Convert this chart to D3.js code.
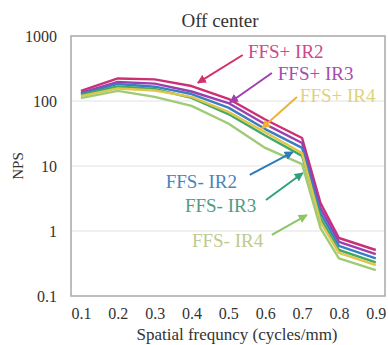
<!DOCTYPE html>
<html>
<head>
<meta charset="utf-8">
<style>
body { margin: 0; background: #fff; }
svg text { font-family: "Liberation Serif", "Times New Roman", serif; }
.axis text { font-size: 16px; fill: #333; }
.axis path, .axis line { display: none; }
</style>
</head>
<body>
<script src="https://cdn.jsdelivr.net/npm/d3@7/dist/d3.min.js"></script>
<script>
// spatial frequency samples (cycles/mm)
const freq = [0.1, 0.2, 0.3, 0.4, 0.5, 0.6, 0.7, 0.75, 0.8, 0.9];

// NPS values
const ffsPlusIR2  = [143, 222, 215, 170, 108, 52, 27, 2.7, 0.78, 0.51];
const ffsPlusIR3  = [133, 196, 185, 140, 93, 44, 22.6, 2.26, 0.68, 0.44];
const ffsMinusIR2 = [128, 183, 166, 128, 79, 37, 19, 1.9, 0.59, 0.38];
const ffsMinusIR3 = [124, 167, 153, 112, 63, 29.5, 14.3, 1.58, 0.51, 0.33];
const ffsPlusIR4  = [119, 156, 145, 116, 68, 33, 15.8, 1.37, 0.46, 0.30];
const ffsMinusIR4 = [111, 143, 116, 84, 45, 19, 10.7, 1.11, 0.38, 0.25];

const seriesNames = ["FFS+ IR2", "FFS+ IR3", "FFS- IR2", "FFS- IR3", "FFS+ IR4", "FFS- IR4"];
const seriesValues = [ffsPlusIR2, ffsPlusIR3, ffsMinusIR2, ffsMinusIR3, ffsPlusIR4, ffsMinusIR4];

const xTicks = [0.1, 0.2, 0.3, 0.4, 0.5, 0.6, 0.7, 0.8, 0.9];
const yTicks = [0.1, 1, 10, 100, 1000];
const yTickLabels = ["0.1", "1", "10", "100", "1000"];

const lineColor = {
    "FFS+ IR2": "#cc2f73", "FFS+ IR3": "#9c3fae", "FFS- IR2": "#3b7cc2",
    "FFS- IR3": "#41a867", "FFS+ IR4": "#e1c64c", "FFS- IR4": "#9fca76"
};
const textColor = {
    "FFS+ IR2": "#d4468a", "FFS+ IR3": "#a64db4", "FFS+ IR4": "#e0d27c",
    "FFS- IR2": "#4a86b8", "FFS- IR3": "#4f9c84", "FFS- IR4": "#bccb90"
};
const arrowColor = {
    "FFS+ IR2": "#d2306e", "FFS+ IR3": "#a040b0", "FFS+ IR4": "#eab436",
    "FFS- IR2": "#2f7ab8", "FFS- IR3": "#2fa27a", "FFS- IR4": "#8cc466"
};

// annotation placement in data units: text start, arrow tail, arrow tip
const notes = [
    {name: "FFS+ IR2", tx: 0.553, ty: 460, ax: 0.539, ay: 510, hx: 0.417, hy: 190},
    {name: "FFS+ IR3", tx: 0.634, ty: 210, ax: 0.618, ay: 270, hx: 0.504, hy: 95},
    {name: "FFS+ IR4", tx: 0.694, ty: 97,  ax: 0.686, ay: 115, hx: 0.591, hy: 38},
    {name: "FFS- IR2", tx: 0.330, ty: 4.6, ax: 0.558, ay: 7.3, hx: 0.675, hy: 16.4},
    {name: "FFS- IR3", tx: 0.382, ty: 1.96, ax: 0.602, ay: 3.0, hx: 0.702, hy: 7.8},
    {name: "FFS- IR4", tx: 0.401, ty: 0.57, ax: 0.618, ay: 0.87, hx: 0.713, hy: 1.76}
];

const W = 388, H = 345;
const margin = {top: 36, right: 3, bottom: 49, left: 71},
    width = W - margin.left - margin.right,
    height = H - margin.top - margin.bottom;

const svg = d3.select("body").append("svg")
    .attr("width", W)
    .attr("height", H);

const g = svg.append("g")
    .attr("transform", "translate(" + margin.left + "," + margin.top + ")");

const x = d3.scaleLinear().domain([0.073, 0.925]).range([0, width]);
const y = d3.scaleLog().domain([0.1, 1000]).range([height, 0]);

// gridlines
g.selectAll(".grid")
    .data(yTicks.slice(1, -1))
    .enter().append("line")
    .attr("class", "grid")
    .attr("x1", 0).attr("x2", width)
    .attr("y1", d => y(d)).attr("y2", d => y(d))
    .attr("stroke", "#e2e2e2")
    .attr("stroke-width", 1.2);

// frame
g.append("rect")
    .attr("width", width)
    .attr("height", height)
    .attr("fill", "none")
    .attr("stroke", "#a8a8a8")
    .attr("stroke-width", 1.5);

g.append("g")
    .attr("class", "x axis")
    .attr("transform", "translate(0," + height + ")")
    .call(d3.axisBottom(x).tickValues(xTicks).tickSize(0).tickPadding(12).tickFormat(d3.format(".1f")))
    .attr("font-family", null).attr("font-size", null);

g.append("g")
    .attr("class", "y axis")
    .call(d3.axisLeft(y).tickValues(yTicks).tickSize(0).tickPadding(14)
        .tickFormat((d, i) => yTickLabels[i]))
    .attr("font-family", null).attr("font-size", null);

// lines
const line = d3.line()
    .x((d, i) => x(freq[i]))
    .y(d => y(d));

g.selectAll(".series")
    .data(seriesNames)
    .enter().append("path")
    .attr("class", "series")
    .attr("fill", "none")
    .attr("stroke", d => lineColor[d])
    .attr("stroke-width", 2.4)
    .attr("stroke-linejoin", "round")
    .attr("d", (d, i) => line(seriesValues[i]));

// arrowheads
const defs = svg.append("defs");
notes.forEach((n, i) => {
    defs.append("marker")
        .attr("id", "ah" + i)
        .attr("viewBox", "0 0 10 10")
        .attr("refX", 9).attr("refY", 5)
        .attr("markerUnits", "userSpaceOnUse")
        .attr("markerWidth", 9).attr("markerHeight", 9)
        .attr("orient", "auto")
        .append("path")
        .attr("d", "M0,0L10,5L0,10z")
        .attr("fill", arrowColor[n.name]);
});

const ann = g.selectAll(".note")
    .data(notes)
    .enter().append("g")
    .attr("class", "note");

ann.append("line")
    .attr("x1", d => x(d.ax)).attr("y1", d => y(d.ay))
    .attr("x2", d => x(d.hx)).attr("y2", d => y(d.hy))
    .attr("stroke", d => arrowColor[d.name])
    .attr("stroke-width", 2)
    .attr("marker-end", (d, i) => "url(#ah" + i + ")");

ann.append("text")
    .attr("x", d => x(d.tx))
    .attr("y", d => y(d.ty))
    .attr("font-size", "19px")
    .attr("fill", d => textColor[d.name])
    .text(d => d.name);

// titles
svg.append("text")
    .attr("x", margin.left + width / 2 - 8)
    .attr("y", 27)
    .attr("text-anchor", "middle")
    .attr("font-size", "19px")
    .attr("fill", "#333")
    .text("Off center");

svg.append("text")
    .attr("x", margin.left + width / 2 + 9)
    .attr("y", 340)
    .attr("text-anchor", "middle")
    .attr("font-size", "17px")
    .attr("fill", "#333")
    .text("Spatial frequncy (cycles/mm)");

svg.append("text")
    .attr("transform", "translate(23," + (margin.top + height / 2) + ") rotate(-90)")
    .attr("text-anchor", "middle")
    .attr("font-size", "15px")
    .attr("fill", "#333")
    .text("NPS");
</script>
</body>
</html>
